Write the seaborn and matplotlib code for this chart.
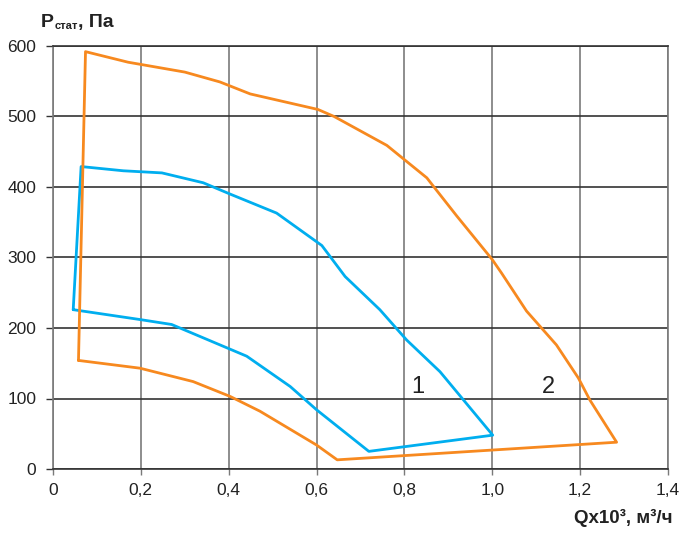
import matplotlib
matplotlib.use('Agg')
import matplotlib.pyplot as plt
import seaborn as sns

# curve 1 (blue) - closed working area, Q x10^3 m3/h vs P stat, Pa
q1 = [0.046, 0.064, 0.160, 0.248, 0.342, 0.403, 0.509, 0.612, 0.665, 0.744,
      0.805, 0.881, 1.001, 0.719, 0.600, 0.540, 0.441, 0.270, 0.198, 0.046]
p1 = [226, 429, 423, 420, 406, 390, 363, 317, 273, 226,
      183, 138, 48, 25, 84, 117, 160, 205, 212, 226]

# curve 2 (orange)
q2 = [0.058, 0.074, 0.171, 0.300, 0.380, 0.449, 0.603, 0.640, 0.760, 0.851,
      0.866, 0.919, 1.000, 1.021, 1.078, 1.146, 1.196, 1.222, 1.283, 0.647,
      0.600, 0.471, 0.403, 0.319, 0.198, 0.058]
p2 = [154, 592, 577, 563, 549, 532, 510, 500, 459, 413,
      401, 359, 297, 278, 224, 176, 129, 98, 38, 13,
      34, 82, 103, 124, 143, 154]

x_ticks = [0, 0.2, 0.4, 0.6, 0.8, 1.0, 1.2, 1.4]
x_labels = ['0', '0,2', '0,4', '0,6', '0,8', '1,0', '1,2', '1,4']
y_ticks = [0, 100, 200, 300, 400, 500, 600]

sns.set_style('white')
plt.rcParams['font.family'] = ['Liberation Sans', 'DejaVu Sans']

fig = plt.figure(figsize=(6.81, 5.35), dpi=100)
ax = fig.add_axes([53 / 681, 1 - 469 / 535, 615 / 681, 423 / 535])

sns.lineplot(x=q1, y=p1, sort=False, estimator=None, color='#00aeef', lw=2, ax=ax)
sns.lineplot(x=q2, y=p2, sort=False, estimator=None, color='#f7891f', lw=2, ax=ax)

ax.set_xlim(0, 1.4)
ax.set_ylim(0, 600)
ax.set_xticks(x_ticks)
ax.set_xticklabels(x_labels)
ax.set_yticks(y_ticks)

ax.grid(True, axis='x', color='#7a7a7a', lw=1.2)
ax.grid(True, axis='y', color='#333333', lw=1.2)
ax.set_axisbelow(True)
for side in ['left', 'right']:
    ax.spines[side].set_color('#7a7a7a')
    ax.spines[side].set_linewidth(1.2)
for side in ['top', 'bottom']:
    ax.spines[side].set_color('#333333')
    ax.spines[side].set_linewidth(1.2)

ax.tick_params(axis='x', direction='out', length=4, width=1, color='#7a7a7a',
               labelsize=12.5, pad=6, labelcolor='#222222', bottom=True)
ax.tick_params(axis='y', direction='out', length=5, width=1, color='#333333',
               labelsize=12.5, pad=7, labelcolor='#222222', left=True)

ax.text(0.831, 108, '1', fontsize=17, color='#222222', ha='center', va='baseline')
ax.text(1.127, 108, '2', fontsize=17, color='#222222', ha='center', va='baseline')

# axis titles
t1 = fig.text(41 / 681, 1 - 27 / 535, 'P', fontsize=14, fontweight='bold',
              color='#222222', ha='left', va='baseline')
t2 = ax.annotate('стат', xy=(1, 0), xycoords=t1, xytext=(0.5, 0),
                 textcoords='offset points', fontsize=8, fontweight='bold',
                 color='#222222', ha='left', va='bottom')
ax.annotate(', Па', xy=(1, 0), xycoords=(t2, t1), xytext=(0, 0),
            textcoords='offset points', fontsize=14, fontweight='bold',
            color='#222222', ha='left', va='bottom')
fig.text(673 / 681, 1 - 523 / 535, 'Qx10³, м³/ч', fontsize=13.5, fontweight='bold',
         color='#222222', ha='right', va='baseline')

fig.savefig('out.png', dpi=100)
